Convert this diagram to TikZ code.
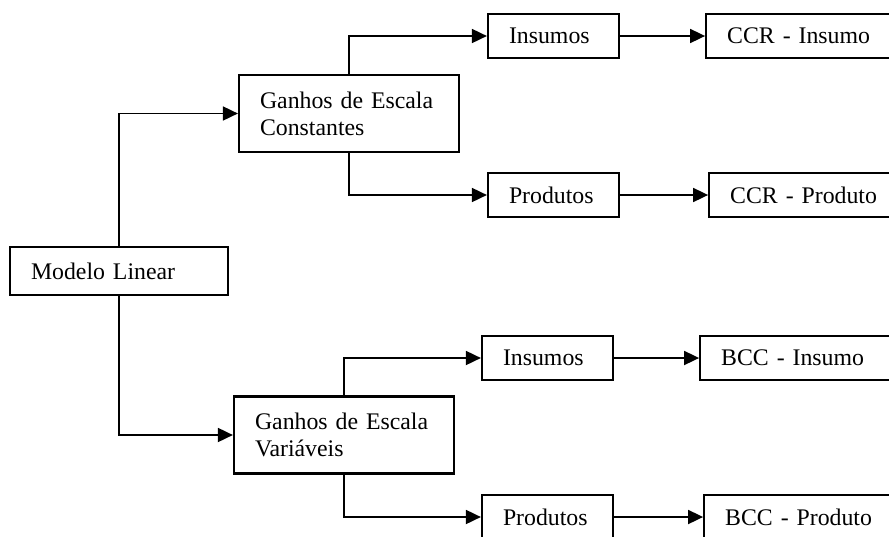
\documentclass[tikz,border=0pt]{standalone}
\usepackage{fontspec}
\setmainfont{Liberation Serif}
\usetikzlibrary{arrows.meta,positioning}

\begin{document}
\begin{tikzpicture}[x=1pt,y=-1pt,
    box/.style={draw,line width=2.2pt,inner xsep=21pt,inner ysep=0pt,align=left,
      font=\fontsize{23.8}{27}\selectfont},
    modelbox/.style={box,text width=176pt,minimum height=48pt},
    gainbox/.style={box,text width=178pt,minimum height=77pt},
    sidebox/.style={box,text width=89pt,minimum height=44pt},
    resultbox/.style={box,text width=158pt,minimum height=44pt},
    arrow/.style={-{Triangle[length=15pt,width=14pt]},line width=1.8pt}
  ]
    \clip (0,0) rectangle (889,536);
    \node[modelbox] (linear) at (119,271) {Modelo Linear};
    \node[gainbox] (const) at (349,113.5) {Ganhos de Escala\\Constantes};
    \node[gainbox] (vari) at (344,435) {Ganhos de Escala\\Variáveis};
    \node[sidebox] (ccrin) at (553.5,36) {Insumos};
    \node[sidebox] (ccrout) at (553.5,195) {Produtos};
    \node[sidebox] (bccin) at (547.5,358) {Insumos};
    \node[sidebox] (bccout) at (547.5,517) {Produtos};
    \node[resultbox,right=85pt of ccrin] (ccri) {CCR - Insumo};
    \node[resultbox,right=88pt of ccrout] (ccrp) {CCR - Produto};
    \node[resultbox,right=85pt of bccin] (bcci) {BCC - Insumo};
    \node[resultbox,right=89pt of bccout] (bccp) {BCC - Produto};
    \draw[arrow] (linear.north) |- (const.west);
    \draw[arrow] (linear.south) |- (vari.west);
    \draw[arrow] (const.north) |- (ccrin.west);
    \draw[arrow] (const.south) |- (ccrout.west);
    \draw[arrow] (vari.north) |- (bccin.west);
    \draw[arrow] (vari.south) |- (bccout.west);
    \draw[arrow] (ccrin) -- (ccri);
    \draw[arrow] (ccrout) -- (ccrp);
    \draw[arrow] (bccin) -- (bcci);
    \draw[arrow] (bccout) -- (bccp);
  \end{tikzpicture}
\end{document}
